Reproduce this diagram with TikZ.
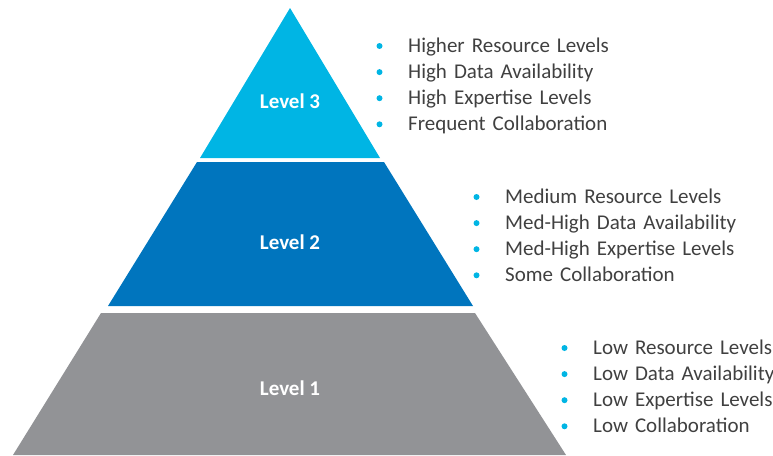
\documentclass[tikz,border=0pt]{standalone}
\usepackage{fontspec}
\setmainfont{Carlito}
\usepackage{xcolor}
\usepackage{tikz}
\usetikzlibrary{positioning}
\definecolor{topcyan}{RGB}{0,181,228}
\definecolor{midblue}{RGB}{0,117,190}
\definecolor{basegray}{RGB}{146,147,150}
\definecolor{textgray}{RGB}{64,64,64}
\tikzstyle{levelname} = [text=white, font=\fontsize{21}{25}\selectfont\bfseries]
\tikzstyle{item} = [inner sep=0pt, text width=260pt, align=left, minimum height=25.7pt, text height=19pt, text depth=6.7pt, text=textgray, font=\fontsize{21}{25}\selectfont]

\begin{document}
\begin{tikzpicture}[x=1pt, y=-1pt]
\useasboundingbox (0,0) rectangle (773,455);

% pyramid
\fill[topcyan] (290,8) -- (380,158) -- (200,158) -- cycle;
\fill[midblue] (197,162) -- (384,162) -- (473,306) -- (108,306) -- cycle;
\fill[basegray] (101,313) -- (475,313) -- (566,455) -- (13,455) -- cycle;

\node[levelname] (lvl3) at (290,101) {Level 3};
\node[levelname] (lvl2) at (290,242) {Level 2};
\node[levelname] (lvl1) at (290,388) {Level 1};

% level 3 list
\node[item, anchor=west] (high1) at (408,46) {Higher Resource Levels};
\node[item, below=0pt of high1] (high2) {High Data Availability};
\node[item, below=0pt of high2] (high3) {High Expertise Levels};
\node[item, below=0pt of high3] (high4) {Frequent Collaboration};

% level 2 list
\node[item, anchor=west] (med1) at (505,197) {Medium Resource Levels};
\node[item, below=0pt of med1] (med2) {Med-High Data Availability};
\node[item, below=0pt of med2] (med3) {Med-High Expertise Levels};
\node[item, below=0pt of med3] (med4) {Some Collaboration};

% level 1 list
\node[item, anchor=west] (low1) at (593,348) {Low Resource Levels};
\node[item, below=0pt of low1] (low2) {Low Data Availability};
\node[item, below=0pt of low2] (low3) {Low Expertise Levels};
\node[item, below=0pt of low3] (low4) {Low Collaboration};

% bullets
\foreach \n in {high1,high2,high3,high4,med1,med2,med3,med4,low1,low2,low3,low4}
    \fill[topcyan] ([xshift=-28.5pt]\n.west) circle (3pt);

\end{tikzpicture}
\end{document}
